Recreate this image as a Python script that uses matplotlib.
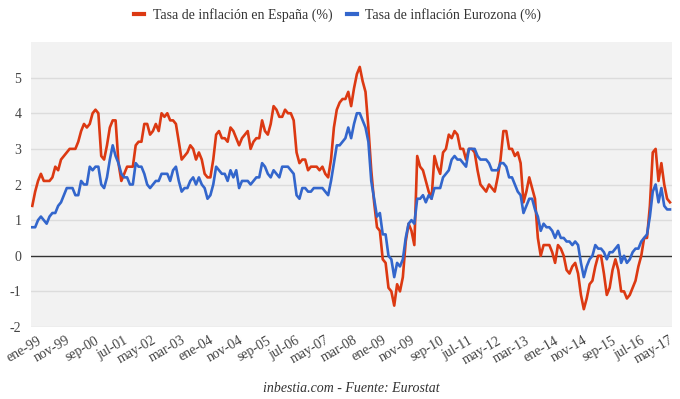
import matplotlib
matplotlib.use("Agg")
import matplotlib.pyplot as plt
from matplotlib.lines import Line2D
from matplotlib.transforms import ScaledTranslation
import numpy as np

# Monthly annual inflation rates, Jan 1999 - Jul 2017
espana = [
    1.4, 1.8, 2.1, 2.3, 2.1, 2.1, 2.1, 2.2, 2.5, 2.4, 2.7, 2.8,   # 1999
    2.9, 3.0, 3.0, 3.0, 3.2, 3.5, 3.7, 3.6, 3.7, 4.0, 4.1, 4.0,   # 2000
    2.8, 2.7, 3.1, 3.6, 3.8, 3.8, 2.6, 2.1, 2.3, 2.5, 2.5, 2.5,   # 2001
    3.1, 3.2, 3.2, 3.7, 3.7, 3.4, 3.5, 3.7, 3.5, 4.0, 3.9, 4.0,   # 2002
    3.8, 3.8, 3.7, 3.2, 2.7, 2.8, 2.9, 3.1, 3.0, 2.7, 2.9, 2.7,   # 2003
    2.3, 2.2, 2.2, 2.7, 3.4, 3.5, 3.3, 3.3, 3.2, 3.6, 3.5, 3.3,   # 2004
    3.1, 3.3, 3.4, 3.5, 3.0, 3.2, 3.3, 3.3, 3.8, 3.5, 3.4, 3.7,   # 2005
    4.2, 4.1, 3.9, 3.9, 4.1, 4.0, 4.0, 3.8, 2.9, 2.6, 2.7, 2.7,   # 2006
    2.4, 2.5, 2.5, 2.5, 2.4, 2.5, 2.3, 2.2, 2.7, 3.6, 4.1, 4.3,   # 2007
    4.4, 4.4, 4.6, 4.2, 4.7, 5.1, 5.3, 4.9, 4.6, 3.6, 2.4, 1.5,   # 2008
    0.8, 0.7, -0.1, -0.2, -0.9, -1.0, -1.4, -0.8, -1.0, -0.6, 0.4, 0.9,  # 2009
    0.7, 0.3, 2.8, 2.5, 2.4, 2.1, 1.8, 1.6, 2.8, 2.5, 2.3, 2.9,   # 2010
    3.0, 3.4, 3.3, 3.5, 3.4, 3.0, 3.0, 2.7, 3.0, 3.0, 2.9, 2.4,   # 2011
    2.0, 1.9, 1.8, 2.0, 1.9, 1.8, 2.2, 2.7, 3.5, 3.5, 3.0, 3.0,   # 2012
    2.8, 2.9, 2.6, 1.5, 1.8, 2.2, 1.9, 1.6, 0.5, 0.0, 0.3, 0.3,   # 2013
    0.3, 0.1, -0.2, 0.3, 0.2, 0.0, -0.4, -0.5, -0.3, -0.2, -0.5, -1.1,  # 2014
    -1.5, -1.2, -0.8, -0.7, -0.3, 0.0, 0.0, -0.5, -1.1, -0.9, -0.4, -0.1,  # 2015
    -0.4, -1.0, -1.0, -1.2, -1.1, -0.9, -0.7, -0.3, 0.0, 0.5, 0.5, 1.4,  # 2016
    2.9, 3.0, 2.1, 2.6, 2.0, 1.6, 1.5,                             # 2017
]

eurozona = [
    0.8, 0.8, 1.0, 1.1, 1.0, 0.9, 1.1, 1.2, 1.2, 1.4, 1.5, 1.7,   # 1999
    1.9, 1.9, 1.9, 1.7, 1.7, 2.1, 2.0, 2.0, 2.5, 2.4, 2.5, 2.5,   # 2000
    2.0, 1.9, 2.2, 2.7, 3.1, 2.8, 2.6, 2.3, 2.2, 2.2, 2.0, 2.0,   # 2001
    2.6, 2.5, 2.5, 2.3, 2.0, 1.9, 2.0, 2.1, 2.1, 2.3, 2.3, 2.3,   # 2002
    2.1, 2.4, 2.5, 2.1, 1.8, 1.9, 1.9, 2.1, 2.2, 2.0, 2.2, 2.0,   # 2003
    1.9, 1.6, 1.7, 2.0, 2.5, 2.4, 2.3, 2.3, 2.1, 2.4, 2.2, 2.4,   # 2004
    1.9, 2.1, 2.1, 2.1, 2.0, 2.1, 2.2, 2.2, 2.6, 2.5, 2.3, 2.2,   # 2005
    2.4, 2.3, 2.2, 2.5, 2.5, 2.5, 2.4, 2.3, 1.7, 1.6, 1.9, 1.9,   # 2006
    1.8, 1.8, 1.9, 1.9, 1.9, 1.9, 1.8, 1.7, 2.1, 2.6, 3.1, 3.1,   # 2007
    3.2, 3.3, 3.6, 3.3, 3.7, 4.0, 4.0, 3.8, 3.6, 3.2, 2.1, 1.6,   # 2008
    1.1, 1.2, 0.6, 0.6, 0.0, -0.1, -0.6, -0.2, -0.3, -0.1, 0.5, 0.9,  # 2009
    1.0, 0.9, 1.6, 1.6, 1.7, 1.5, 1.7, 1.6, 1.9, 1.9, 1.9, 2.2,   # 2010
    2.3, 2.4, 2.7, 2.8, 2.7, 2.7, 2.6, 2.5, 3.0, 3.0, 3.0, 2.8,   # 2011
    2.7, 2.7, 2.7, 2.6, 2.4, 2.4, 2.4, 2.6, 2.6, 2.5, 2.2, 2.2,   # 2012
    2.0, 1.8, 1.7, 1.2, 1.4, 1.6, 1.6, 1.3, 1.1, 0.7, 0.9, 0.8,   # 2013
    0.8, 0.7, 0.5, 0.7, 0.5, 0.5, 0.4, 0.4, 0.3, 0.4, 0.3, -0.2,  # 2014
    -0.6, -0.3, -0.1, 0.0, 0.3, 0.2, 0.2, 0.1, -0.1, 0.1, 0.1, 0.2,  # 2015
    0.3, -0.2, 0.0, -0.2, -0.1, 0.1, 0.2, 0.2, 0.4, 0.5, 0.6, 1.1,  # 2016
    1.8, 2.0, 1.5, 1.9, 1.4, 1.3, 1.3,                             # 2017
]

tick_labels = ["ene-99", "nov-99", "sep-00", "jul-01", "may-02", "mar-03",
               "ene-04", "nov-04", "sep-05", "jul-06", "may-07", "mar-08",
               "ene-09", "nov-09", "sep-10", "jul-11", "may-12", "mar-13",
               "ene-14", "nov-14", "sep-15", "jul-16", "may-17"]
tick_step = 10
y_ticks = [-2, -1, 0, 1, 2, 3, 4, 5]

series_names = ["Tasa de inflación en España (%)", "Tasa de inflación Eurozona (%)"]
RED = "#dc3912"
BLUE = "#3366cc"
SERIF = ["Liberation Serif", "DejaVu Serif"]

fig = plt.figure(figsize=(6.8, 3.99), dpi=100)
ax = fig.add_axes([31 / 680, 1 - 327 / 399, (672 - 31) / 680, (327 - 42) / 399])
ax.set_facecolor("#f2f2f2")

x = np.arange(len(espana))
ax.plot(x, espana, color=RED, lw=1.9, solid_joinstyle="round", zorder=4)
ax.plot(np.arange(len(eurozona)), eurozona, color=BLUE, lw=1.9,
        solid_joinstyle="round", zorder=5)

ax.set_xlim(-0.45, 222.7)
ax.set_ylim(-2, 6)

for v in y_ticks:
    if v == 0:
        continue
    ax.axhline(v, color="#dcdcdc", lw=1.0, zorder=1)
ax.axhline(0, color="#333333", lw=1.0, zorder=3)

for s in ax.spines.values():
    s.set_visible(False)

ax.set_yticks(y_ticks)
ax.set_yticklabels([str(v) for v in y_ticks], fontfamily=SERIF, fontsize=10, color="#444444")
ax.tick_params(axis="y", length=0, pad=7)

ticks = [i * tick_step for i in range(len(tick_labels))]
ax.set_xticks(ticks)
ax.set_xticklabels(tick_labels, rotation=30, ha="right", rotation_mode="anchor",
                   fontfamily=SERIF, fontsize=10, color="#444444")
ax.tick_params(axis="x", length=0, pad=5)
offset = ScaledTranslation(5 / 100, 0, fig.dpi_scale_trans)
for lab in ax.get_xticklabels():
    lab.set_transform(lab.get_transform() + offset)

handles = [Line2D([0], [0], color=RED, lw=3), Line2D([0], [0], color=BLUE, lw=3)]
fig.legend(handles, series_names, loc="center", bbox_to_anchor=(0.497, 1 - 15 / 399),
           ncol=2, frameon=False, handlelength=0.7, handletextpad=0.6,
           columnspacing=1.1, prop={"family": SERIF, "size": 10},
           labelcolor="#333333")

fig.text(351.5 / 680, 1 - 388 / 399, "inbestia.com - Fuente: Eurostat", ha="center",
         va="center", fontfamily=SERIF, fontstyle="italic", fontsize=10, color="#333333")

fig.savefig("out.png", dpi=100)
